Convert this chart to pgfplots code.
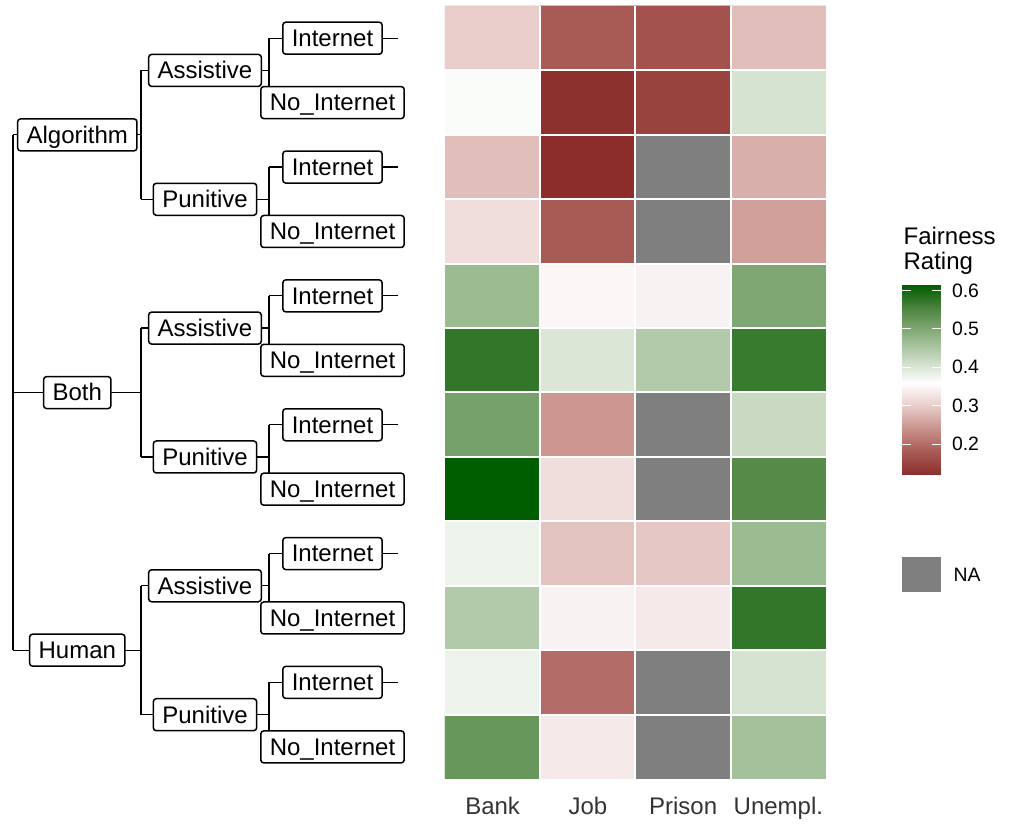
\documentclass[border=0pt]{standalone}
\usepackage{pgfplots}
\usepackage{pgfplotstable}
\pgfplotsset{compat=1.18}
\usepackage{fontspec}
\setmainfont{Liberation Sans}

\definecolor{naGray}{RGB}{127,127,127}

\pgfplotsset{
    colormap={fair}{rgb255(120)=(139,45,43) rgb255(180)=(168,90,84)
        rgb255(240)=(202,145,140) rgb255(300)=(232,205,202)
        rgb255(360)=(255,255,255) rgb255(424)=(197,215,190)
        rgb255(487)=(139,176,128) rgb255(551)=(80,134,66)
        rgb255(614)=(0,94,0)},
}

% fairness rating per cell: row = tree leaf (top to bottom), x = scenario
% Prison cells marked NA carry a placeholder and are painted grey below
\pgfplotstableread{
x y c
0 0 0.300
1 0 0.180
2 0 0.170
3 0 0.285
0 1 0.365
1 1 0.125
2 1 0.150
3 1 0.405
0 2 0.285
1 2 0.120
2 2 0.360
3 2 0.270
0 3 0.320
1 3 0.180
2 3 0.360
3 3 0.255
0 4 0.470
1 4 0.350
2 4 0.345
3 4 0.500
0 5 0.575
1 5 0.400
2 5 0.445
3 5 0.570
0 6 0.510
1 6 0.245
2 6 0.360
3 6 0.420
0 7 0.614
1 7 0.320
2 7 0.360
3 7 0.545
0 8 0.380
1 8 0.290
2 8 0.295
3 8 0.470
0 9 0.445
1 9 0.345
2 9 0.335
3 9 0.575
0 10 0.380
1 10 0.200
2 10 0.360
3 10 0.405
0 11 0.525
1 11 0.335
2 11 0.360
3 11 0.460
}\fairtab

\begin{document}
\begin{tikzpicture}
% page frame in pixel units (1px = 0.5pt), origin top left
\begin{scope}[x=0.5pt,y=-0.5pt,shift={(-222.5pt,389.5pt)}]
\path (0,0) rectangle (1009,828);
\end{scope}

\begin{axis}[
    scale only axis,
    width=190.5pt, height=386.5pt,
    xmin=-0.5, xmax=3.5, ymin=-0.5, ymax=11.5,
    y dir=reverse,
    axis on top,
    axis line style={draw=none},
    major tick length=0pt, minor tick length=0pt,
    tick style={draw=none},
    xtick={0,1,2,3},
    xticklabels={Bank,Job,Prison,Unempl.},
    xticklabel style={font=\fontsize{12}{14}\selectfont, text=black!80, yshift=-5.5pt},
    ytick={0.5,1.5,...,10.5},
    yticklabel=\empty,
    ymajorgrids,
    major grid style={white, line width=1pt},
    minor xtick={0.5,1.5,2.5},
    xminorgrids,
    minor grid style={white, line width=1pt},
    point meta min=0.12, point meta max=0.614,
]
\addplot[matrix plot*, mesh/cols=4, point meta=explicit] table[x=x, y=y, meta=c] {\fairtab};
% NA cells (Prison, punitive rows)
\addplot[fill=naGray, draw=none] coordinates {(1.5,1.5) (2.5,1.5) (2.5,3.5) (1.5,3.5) (1.5,1.5)};
\addplot[fill=naGray, draw=none] coordinates {(1.5,5.5) (2.5,5.5) (2.5,7.5) (1.5,7.5) (1.5,5.5)};
\addplot[fill=naGray, draw=none] coordinates {(1.5,9.5) (2.5,9.5) (2.5,11.5) (1.5,11.5) (1.5,9.5)};
\end{axis}

% colour key: 902..941 px wide, 285..475 px tall
\begin{axis}[
    at={(228.5pt,152pt)}, anchor=south west,
    scale only axis,
    width=19.5pt, height=95pt,
    view={0}{90},
    xmin=0, xmax=1, ymin=0.12, ymax=0.614,
    enlargelimits=false,
    axis on top,
    axis line style={draw=none},
    xtick=\empty,
    ytick={0.2,0.3,0.4,0.5,0.6},
    ytick pos=both, yticklabel pos=right,
    tick align=inside,
    major tick length=4.5pt,
    major tick style={white, line width=0.6pt},
    yticklabel style={font=\fontsize{9.7}{11}\selectfont, xshift=2pt,
        /pgf/number format/assume math mode=true,
        /pgf/number format/fixed, /pgf/number format/precision=1,
        /pgf/number format/fixed zerofill},
    point meta min=0.12, point meta max=0.614,
]
\addplot3[surf, shader=interp, point meta=y] coordinates {
(0,0.12,0) (1,0.12,0)

(0,0.614,0) (1,0.614,0)
};
\end{axis}

% tree and legend annotations, pixel units
\begin{scope}[x=0.5pt,y=-0.5pt,shift={(-222.5pt,389.5pt)}, line width=0.6pt,
    lbl/.style={draw, fill=white, rounded corners=1.5pt, line width=0.75pt,
        inner xsep=4.5pt, inner ysep=0pt, minimum height=16pt,
        text height=8.8pt, text depth=0.4pt, font=\fontsize{12}{14}\selectfont}]
\draw (13,134.9) -- (13,650.2);
\foreach \g/\a/\p in {134.9/70.4/199.3, 392.6/328.1/457.0, 650.2/585.8/714.7} {
    \draw (13,\g) -- (141,\g);
    \draw (141,\a) -- (141,\p);
    \draw (141,\a) -- (269,\a);
    \draw (141,\p) -- (269,\p);
}
\foreach \i/\n in {38.2/102.6, 167.1/231.5, 295.9/360.3, 424.8/489.2, 553.6/618.0, 682.4/746.9} {
    \draw (269,\i) -- (269,\n);
    \draw (269,\i) -- (398,\i);
    \draw (269,\n) -- (398,\n);
    \node[lbl] at (332.5,\i) {Internet};
    \node[lbl] at (332.5,\n) {No\_Internet};
}
\foreach \a/\p in {70.4/199.3, 328.1/457.0, 585.8/714.7} {
    \node[lbl] at (205,\a) {Assistive};
    \node[lbl] at (205,\p) {Punitive};
}
\node[lbl] at (77.3,134.9) {Algorithm};
\node[lbl] at (77.3,392.6) {Both};
\node[lbl] at (77.3,650.2) {Human};

% legend title and NA key
\node[anchor=base west, inner sep=0pt, font=\fontsize{12}{14}\selectfont] at (903,245) {Fairness};
\node[anchor=base west, inner sep=0pt, font=\fontsize{12}{14}\selectfont] at (903,270) {Rating};
\fill[naGray] (902.5,557) rectangle (941,592);
\node[anchor=west, inner sep=0pt, font=\fontsize{9.7}{11}\selectfont] at (953,575) {NA};
\end{scope}
\end{tikzpicture}
\end{document}
